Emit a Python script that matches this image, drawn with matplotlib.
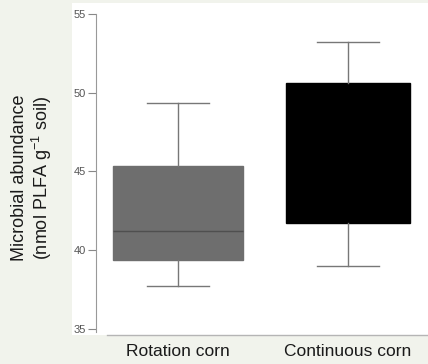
import matplotlib.pyplot as plt
from matplotlib.patches import Rectangle

# box statistics (nmol PLFA g-1 soil)
groups = ["Rotation corn", "Continuous corn"]
whis_low = [37.7, 39.0]
q1 = [39.4, 41.7]
medians = [41.2, 46.0]
q3 = [45.35, 50.65]
whis_high = [49.35, 53.2]
box_colors = ["#6e6e6e", "#000000"]
median_colors = ["#4f4f4f", "#000000"]

plt.rcParams["font.family"] = ["Liberation Sans", "DejaVu Sans"]
plt.rcParams["mathtext.fontset"] = "custom"
plt.rcParams["mathtext.rm"] = "Liberation Sans"
plt.rcParams["mathtext.it"] = "Liberation Sans:italic"

W, H = 428, 364
fig = plt.figure(figsize=(W / 100, H / 100), dpi=100, facecolor="#f1f3ec")

# white panel behind the plot
fig.patches.append(Rectangle((72 / W, 1 - 335 / H), 1 - 72 / W, (335 - 3) / H,
                             transform=fig.transFigure, facecolor="white",
                             edgecolor="none", zorder=-5))
fig.lines.append(plt.Line2D([107 / W, 1], [1 - 335 / H, 1 - 335 / H],
                            transform=fig.transFigure, color="#b5b5b5", lw=1,
                            zorder=-4))

ax = fig.add_axes([96 / W, 1 - 332 / H, (428 - 96) / W, (332 - 14) / H])
ax.set_facecolor("none")
ax.set_zorder(2)

stats = []
for i, g in enumerate(groups):
    stats.append({"label": g, "whislo": whis_low[i], "q1": q1[i], "med": medians[i],
                  "q3": q3[i], "whishi": whis_high[i], "fliers": []})

bp = ax.bxp(stats, positions=[1, 2], widths=[0.76, 0.725], patch_artist=True,
            showfliers=False, whiskerprops=dict(color="#777777", lw=1),
            capprops=dict(color="#777777", lw=1), capwidths=0.37)
for i, box in enumerate(bp["boxes"]):
    box.set_facecolor(box_colors[i])
    box.set_edgecolor(box_colors[i])
    bp["medians"][i].set_color(median_colors[i])
    bp["medians"][i].set_linewidth(1)

y_per_unit = (329 - 14) / 20
ax.set_ylim(35 - 3 / y_per_unit, 55)
ax.set_xlim(1 - 82 / 170, 2 + 80 / 170)
ax.set_yticks([35, 40, 45, 50, 55])
ax.tick_params(axis="y", labelsize=8, colors="#888888", labelcolor="#555555",
               length=6, width=0.8, pad=1)
ax.set_xticks([])
for s in ["top", "right", "bottom"]:
    ax.spines[s].set_visible(False)
ax.spines["left"].set_color("#999999")
ax.spines["left"].set_bounds(35 - 3 / y_per_unit, 55)

for i, g in enumerate(groups):
    fig.text([178, 348][i] / W, 1 - 351 / H, g, ha="center", va="center",
             fontsize=12.5, color="#1a1a1a")

fig.text(20 / W, 1 - 178 / H, "Microbial abundance", rotation=90,
         ha="center", va="center", fontsize=13, color="#1a1a1a")
fig.text(42 / W, 1 - 178 / H, "(nmol PLFA g$^{-1}$ soil)", rotation=90,
         ha="center", va="center", fontsize=13, color="#1a1a1a")

fig.savefig("out.png", dpi=100, facecolor=fig.get_facecolor())
